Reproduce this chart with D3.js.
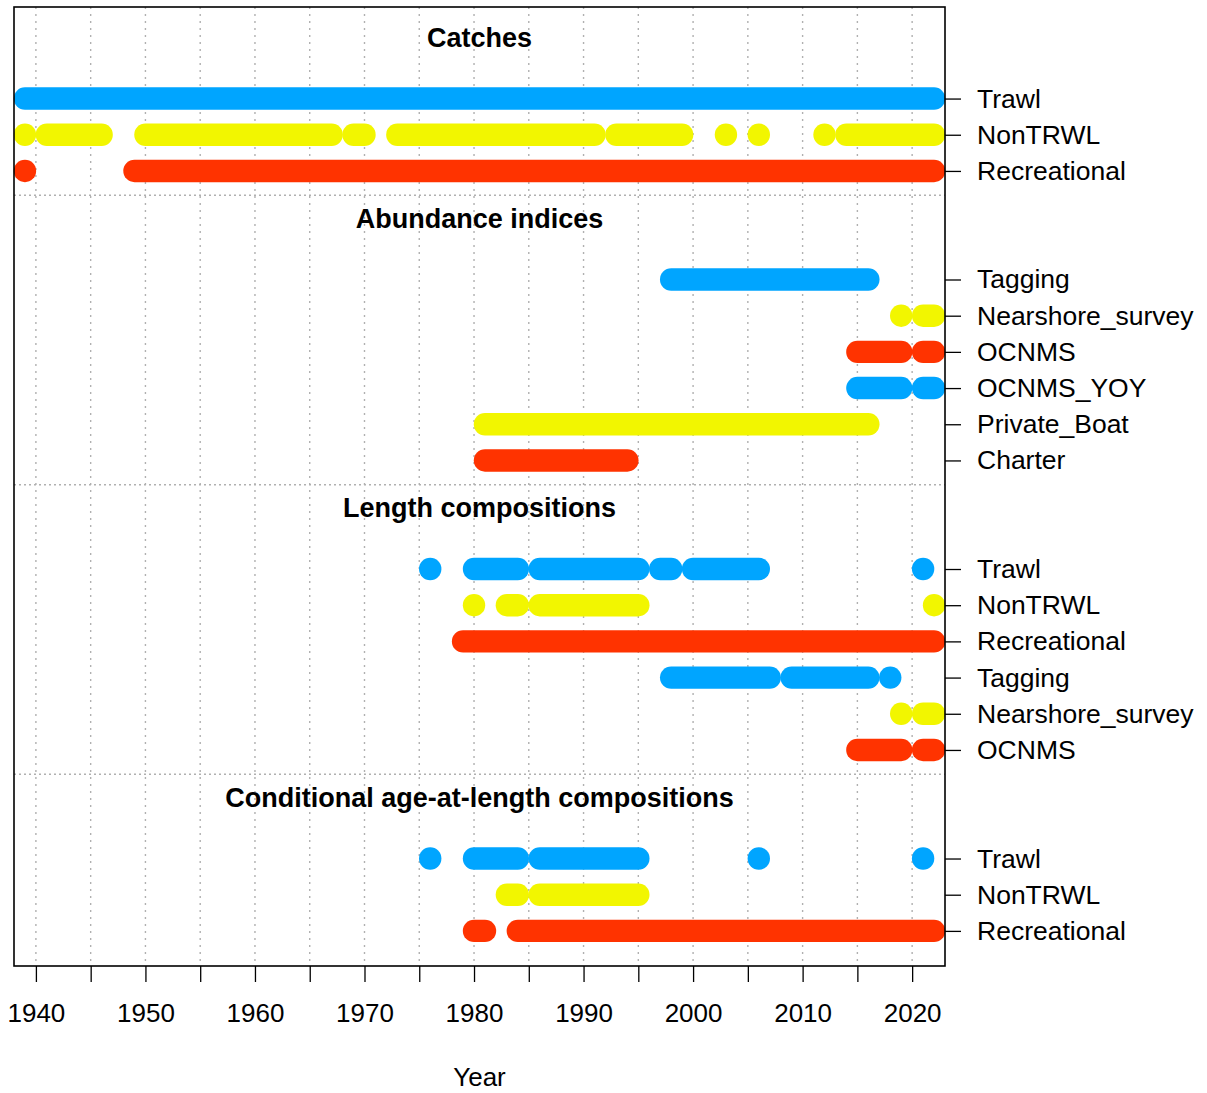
<!DOCTYPE html>
<html>
<head>
<meta charset="utf-8">
<script src="https://cdn.jsdelivr.net/npm/d3@7"></script>
<style>
  html, body { margin: 0; padding: 0; background: #fff; }
  svg { display: block; font-family: "Liberation Sans", Arial, sans-serif; }
</style>
</head>
<body>
<svg id="chart" width="1207" height="1093"></svg>
<script>
// ---------------- DATA ----------------
const groupTitles = ["Catches", "Abundance indices", "Length compositions", "Conditional age-at-length compositions"];

const catchFleets = ["Trawl", "NonTRWL", "Recreational"];
const catchTrawl = [1939,1940,1941,1942,1943,1944,1945,1946,1947,1948,1949,1950,1951,1952,1953,1954,1955,1956,1957,1958,1959,1960,1961,1962,1963,1964,1965,1966,1967,1968,1969,1970,1971,1972,1973,1974,1975,1976,1977,1978,1979,1980,1981,1982,1983,1984,1985,1986,1987,1988,1989,1990,1991,1992,1993,1994,1995,1996,1997,1998,1999,2000,2001,2002,2003,2004,2005,2006,2007,2008,2009,2010,2011,2012,2013,2014,2015,2016,2017,2018,2019,2020,2021,2022];
const catchNonTRWL = [1939,1941,1942,1943,1944,1945,1946,1950,1951,1952,1953,1954,1955,1956,1957,1958,1959,1960,1961,1962,1963,1964,1965,1966,1967,1969,1970,1973,1974,1975,1976,1977,1978,1979,1980,1981,1982,1983,1984,1985,1986,1987,1988,1989,1990,1991,1993,1994,1995,1996,1997,1998,1999,2003,2006,2012,2014,2015,2016,2017,2018,2019,2020,2021,2022];
const catchRecreational = [1939,1949,1950,1951,1952,1953,1954,1955,1956,1957,1958,1959,1960,1961,1962,1963,1964,1965,1966,1967,1968,1969,1970,1971,1972,1973,1974,1975,1976,1977,1978,1979,1980,1981,1982,1983,1984,1985,1986,1987,1988,1989,1990,1991,1992,1993,1994,1995,1996,1997,1998,1999,2000,2001,2002,2003,2004,2005,2006,2007,2008,2009,2010,2011,2012,2013,2014,2015,2016,2017,2018,2019,2020,2021,2022];

const indexFleets = ["Tagging", "Nearshore_survey", "OCNMS", "OCNMS_YOY", "Private_Boat", "Charter"];
const indexTagging = [1998,1999,2000,2001,2002,2003,2004,2005,2006,2007,2008,2009,2010,2011,2012,2013,2014,2015,2016];
const indexNearshore = [2019,2021,2022];
const indexOCNMS = [2015,2016,2017,2018,2019,2021,2022];
const indexOCNMSYOY = [2015,2016,2017,2018,2019,2021,2022];
const indexPrivateBoat = [1981,1982,1983,1984,1985,1986,1987,1988,1989,1990,1991,1992,1993,1994,1995,1996,1997,1998,1999,2000,2001,2002,2003,2004,2005,2006,2007,2008,2009,2010,2011,2012,2013,2014,2015,2016];
const indexCharter = [1981,1982,1983,1984,1985,1986,1987,1988,1989,1990,1991,1992,1993,1994];

const lenFleets = ["Trawl", "NonTRWL", "Recreational", "Tagging", "Nearshore_survey", "OCNMS"];
const lenTrawl = [1976,1980,1981,1982,1983,1984,1986,1987,1988,1989,1990,1991,1992,1993,1994,1995,1997,1998,2000,2001,2002,2003,2004,2005,2006,2021];
const lenNonTRWL = [1980,1983,1984,1986,1987,1988,1989,1990,1991,1992,1993,1994,1995,2022];
const lenRecreational = [1979,1980,1981,1982,1983,1984,1985,1986,1987,1988,1989,1990,1991,1992,1993,1994,1995,1996,1997,1998,1999,2000,2001,2002,2003,2004,2005,2006,2007,2008,2009,2010,2011,2012,2013,2014,2015,2016,2017,2018,2019,2020,2021,2022];
const lenTagging = [1998,1999,2000,2001,2002,2003,2004,2005,2006,2007,2009,2010,2011,2012,2013,2014,2015,2016,2018];
const lenNearshore = [2019,2021,2022];
const lenOCNMS = [2015,2016,2017,2018,2019,2021,2022];

const ageFleets = ["Trawl", "NonTRWL", "Recreational"];
const ageTrawl = [1976,1980,1981,1982,1983,1984,1986,1987,1988,1989,1990,1991,1992,1993,1994,1995,2006,2021];
const ageNonTRWL = [1983,1984,1986,1987,1988,1989,1990,1991,1992,1993,1994,1995];
const ageRecreational = [1980,1981,1984,1985,1986,1987,1988,1989,1990,1991,1992,1993,1994,1995,1996,1997,1998,1999,2000,2001,2002,2003,2004,2005,2006,2007,2008,2009,2010,2011,2012,2013,2014,2015,2016,2017,2018,2019,2020,2021,2022];

const fleetColorIndex = {Trawl: 0, NonTRWL: 1, Recreational: 2, Tagging: 0, Nearshore_survey: 1, OCNMS: 2, OCNMS_YOY: 0, Private_Boat: 1, Charter: 2};
const palette = ["#00A5FF", "#F2F600", "#FF3300"];

const xTickYears = [1940,1945,1950,1955,1960,1965,1970,1975,1980,1985,1990,1995,2000,2005,2010,2015,2020];
const xLabelYears = [1940,1950,1960,1970,1980,1990,2000,2010,2020];

// ---------------- BUILD ROWS ----------------
const groups = [
  {title: groupTitles[0], fleets: catchFleets, years: [catchTrawl, catchNonTRWL, catchRecreational]},
  {title: groupTitles[1], fleets: indexFleets, years: [indexTagging, indexNearshore, indexOCNMS, indexOCNMSYOY, indexPrivateBoat, indexCharter]},
  {title: groupTitles[2], fleets: lenFleets, years: [lenTrawl, lenNonTRWL, lenRecreational, lenTagging, lenNearshore, lenOCNMS]},
  {title: groupTitles[3], fleets: ageFleets, years: [ageTrawl, ageNonTRWL, ageRecreational]}
];

const rows = [];
const titles = [];
const separators = [];
let pos = 0;
groups.forEach((g, gi) => {
  titles.push({text: g.title, pos: pos - 1.7});
  g.fleets.forEach((f, fi) => {
    rows.push({fleet: f, pos: pos, years: g.years[fi]});
    pos += 1;
  });
  if (gi < groups.length - 1) separators.push(pos - 1 + 0.67);
  pos += 2;
});

function runs(years) {
  const out = [];
  let s = years[0], p = years[0];
  for (let i = 1; i < years.length; i++) {
    if (years[i] === p + 1) { p = years[i]; }
    else { out.push([s, p]); s = years[i]; p = years[i]; }
  }
  out.push([s, p]);
  return out;
}

// ---------------- DRAW ----------------
const svg = d3.select("#chart");
const L = 14, R = 945, T = 7, B = 966;
const x = d3.scaleLinear().domain([1938, 2023]).range([L, R]);
const y = d3.scaleLinear().domain([-2.53, 23.97]).range([T, B]);
const rad = 11.2;

const plot = svg.append("g");

// vertical grid
plot.selectAll("line.vgrid").data(xTickYears).join("line")
  .attr("x1", d => x(d)).attr("x2", d => x(d))
  .attr("y1", T).attr("y2", B)
  .attr("stroke", "#b0b0b0").attr("stroke-width", 1.4)
  .attr("stroke-dasharray", "2,5");

// horizontal separators
plot.selectAll("line.hsep").data(separators).join("line")
  .attr("x1", L).attr("x2", R)
  .attr("y1", d => y(d)).attr("y2", d => y(d))
  .attr("stroke", "#b0b0b0").attr("stroke-width", 1.4)
  .attr("stroke-dasharray", "2,3");

// pills
rows.forEach(r => {
  const col = palette[fleetColorIndex[r.fleet]];
  plot.append("g").selectAll("rect").data(runs(r.years)).join("rect")
    .attr("x", d => x(d[0]) - rad)
    .attr("width", d => x(d[1]) - x(d[0]) + 2 * rad)
    .attr("y", y(r.pos) - rad)
    .attr("height", 2 * rad)
    .attr("rx", rad).attr("ry", rad)
    .attr("fill", col);
});

// titles
svg.selectAll("text.title").data(titles).join("text")
  .attr("x", (L + R) / 2)
  .attr("y", d => y(d.pos))
  .attr("dy", "0.36em")
  .attr("text-anchor", "middle")
  .attr("font-weight", "bold")
  .attr("font-size", 27)
  .text(d => d.text);

// box
svg.append("rect")
  .attr("x", L).attr("y", T).attr("width", R - L).attr("height", B - T)
  .attr("fill", "none").attr("stroke", "#000").attr("stroke-width", 1.6);

// bottom axis
const xAxis = d3.axisBottom(x)
  .tickValues(xTickYears)
  .tickFormat(d => xLabelYears.includes(d) ? String(d) : "")
  .tickSize(16).tickPadding(22);
const gx = svg.append("g").attr("transform", `translate(0,${B})`).call(xAxis);
gx.select(".domain").remove();
gx.selectAll("line").attr("stroke", "#000").attr("stroke-width", 1.3);
gx.selectAll("text").attr("font-size", 26).attr("fill", "#000")
  .attr("font-family", "Liberation Sans, Arial, sans-serif");

// right axis
const yAxis = d3.axisRight(y)
  .tickValues(rows.map(r => r.pos))
  .tickFormat(d => rows.find(r => r.pos === d).fleet)
  .tickSize(16).tickPadding(16);
const gy = svg.append("g").attr("transform", `translate(${R},0)`).call(yAxis);
gy.select(".domain").remove();
gy.selectAll("line").attr("stroke", "#000").attr("stroke-width", 1.3);
gy.selectAll("text").attr("font-size", 26.5).attr("fill", "#000")
  .attr("font-family", "Liberation Sans, Arial, sans-serif");

// x label
svg.append("text")
  .attr("x", (L + R) / 2).attr("y", 1086)
  .attr("text-anchor", "middle")
  .attr("font-size", 26)
  .text("Year");
</script>
</body>
</html>
